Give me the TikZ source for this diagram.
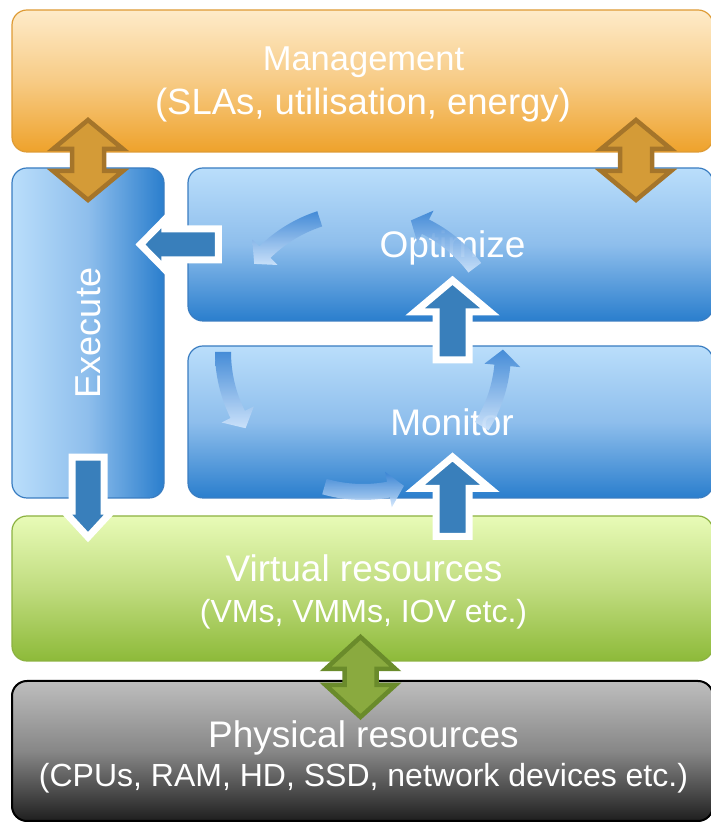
\documentclass[tikz,border=0pt]{standalone}
\usepackage{fontspec}
\setmainfont{Liberation Sans}
\usetikzlibrary{positioning,calc}

\definecolor{mgmttop}{HTML}{FEEBC9}
\definecolor{mgmtmid}{HTML}{F7CB85}
\definecolor{mgmtbot}{HTML}{EEA22B}
\definecolor{mgmtline}{HTML}{DE9B35}
\definecolor{bluetop}{HTML}{BADEFB}
\definecolor{bluemid}{HTML}{8EBEEC}
\definecolor{bluebot}{HTML}{2A7ECD}
\definecolor{blueline}{HTML}{3A7DC1}
\definecolor{greentop}{HTML}{E8FBB7}
\definecolor{greenmid}{HTML}{C0DC7F}
\definecolor{greenbot}{HTML}{8DBA39}
\definecolor{greenline}{HTML}{8CB241}
\definecolor{greytop}{HTML}{BEBEBE}
\definecolor{greymid}{HTML}{878787}
\definecolor{greybot}{HTML}{1F1F1F}
\definecolor{arrowblue}{HTML}{397FBB}
\definecolor{brownfill}{HTML}{D49B37}
\definecolor{brownline}{HTML}{A5752A}
\definecolor{olivefill}{HTML}{8AAA3F}
\definecolor{oliveline}{HTML}{6A8B2B}
\definecolor{cycletop}{HTML}{3A84D4}
\definecolor{cyclebot}{HTML}{D2E6FC}

\tikzset{
  layer/.style={rectangle, rounded corners=15pt, inner sep=0pt, line width=1.2pt},
  mgmtbox/.style={layer, draw=mgmtline, top color=mgmttop, bottom color=mgmtbot, middle color=mgmtmid},
  loopbox/.style={layer, draw=blueline, top color=bluetop, bottom color=bluebot, middle color=bluemid},
  execbox/.style={layer, draw=blueline, left color=bluetop, right color=bluebot, middle color=bluemid},
  virtbox/.style={layer, draw=greenline, top color=greentop, bottom color=greenbot, middle color=greenmid},
  physbox/.style={layer, draw=black, line width=2pt, top color=greytop, bottom color=greybot, middle color=greymid},
  heading/.style={text=white, font=\fontsize{37}{44}\selectfont, anchor=base, inner sep=0pt},
  detail/.style={text=white, font=\fontsize{32}{38}\selectfont, anchor=base, inner sep=0pt},
  flowstyle/.style={draw=white, fill=arrowblue, line width=7pt, line join=miter},
  brownstyle/.style={draw=brownline, fill=brownfill, line width=4.5pt, line join=miter},
  olivestyle/.style={draw=oliveline, fill=olivefill, line width=4.5pt, line join=miter},
  cycleshade/.style={top color=cycletop, bottom color=cyclebot, opacity=0.9},
  % shaft length / shaft half width / head half width / head length
  pics/blockarrow/.style args={#1/#2/#3/#4}{code={
    \path[pic actions] (0,-#2) -- (#1,-#2) -- (#1,-#3) -- ({#1+#4},0)
      -- (#1,#3) -- (#1,#2) -- (0,#2) -- cycle;
  }},
  % half length / head length / shaft half width / head half width
  pics/twinarrow/.style args={#1/#2/#3/#4}{code={
    \path[pic actions] (-#1,0) -- ({-#1+#2},#4) -- ({-#1+#2},#3) -- ({#1-#2},#3)
      -- ({#1-#2},#4) -- (#1,0) -- ({#1-#2},-#4) -- ({#1-#2},-#3)
      -- ({-#1+#2},-#3) -- ({-#1+#2},-#4) -- cycle;
  }},
  pics/cyclearrow/.style={code={
    \shade[cycleshade] (#1:132) arc[start angle=#1, end angle={#1+26.5}, radius=132]
      -- ({#1+26.5}:122) -- ({#1+33}:140) -- ({#1+26.5}:158) -- ({#1+26.5}:148)
      arc[start angle={#1+26.5}, end angle=#1, radius=148] -- cycle;
  }},
}

\begin{document}
\begin{tikzpicture}[x=1pt,y=1pt]
\useasboundingbox (0,0) rectangle (711,822);

% layers
\node[mgmtbox, minimum width=701pt, minimum height=142pt] (mgmt) at (362.5,741) {};
\node[execbox, minimum width=152pt, minimum height=330pt] (execute) at (88,489) {};
\node[loopbox, minimum width=525pt, minimum height=153pt] (optimize) at (450.5,577.5) {};
\node[loopbox, minimum width=525pt, minimum height=152pt] (monitor) at (450.5,400) {};
\node[virtbox, minimum width=701pt, minimum height=145pt] (virtual) at (362.5,233.5) {};
\node[physbox, minimum width=701pt, minimum height=140pt] (physical) at (362.5,71) {};

% labels
\node[heading, font=\fontsize{34.5}{40}\selectfont] (mgmt-title) at (363.5,751) {Management};
\node[heading, font=\fontsize{36.5}{42}\selectfont] (mgmt-sub) at (363,707) {(SLAs, utilisation, energy)};
\node[heading] (optimize-title) at (452.5,564) {Optimize};
\node[heading] (monitor-title) at (452,386) {Monitor};
\node[heading, font=\fontsize{36}{42}\selectfont, anchor=center, rotate=90] (execute-title) at (88,489) {Execute};
\node[heading] (virtual-title) at (364,240) {Virtual resources};
\node[detail] (virtual-sub) at (363.5,199) {(VMs, VMMs, IOV etc.)};
\node[heading] (physical-title) at (363.5,74) {Physical resources};
\node[detail] (physical-sub) at (363.5,35) {(CPUs, RAM, HD, SSD, network devices etc.)};

% control loop
\coordinate (loopc) at (363,470);
\pic at (loopc) {cyclearrow=37};
\pic at (loopc) {cyclearrow=108};
\pic at (loopc) {cyclearrow=180};
\pic at (loopc) {cyclearrow=254};
\pic at (loopc) {cyclearrow=328};

% block arrows
\pic[flowstyle, rotate=180] at ([xshift=31pt]optimize.west) {blockarrow=53.5/15.5/25/24.5};
\pic[flowstyle, rotate=-90] at ([yshift=41.5pt]execute.south) {blockarrow=54/16/24/26};
\pic[flowstyle, rotate=90] at ([xshift=2pt,yshift=-14.5pt]monitor.north) {blockarrow=48/16.5/37.5/31.5};
\pic[flowstyle, rotate=90] at (452.5,285.5) {blockarrow=48/16.5/37.5/31.5};

% management and resource links
\pic[brownstyle, rotate=90] at (88,662) {twinarrow=40/29/16/35};
\pic[brownstyle, rotate=90] at (636,662) {twinarrow=40/29/16/35};
\pic[olivestyle, rotate=90] at (360.5,145) {twinarrow=40/32/16/35};
\end{tikzpicture}
\end{document}
